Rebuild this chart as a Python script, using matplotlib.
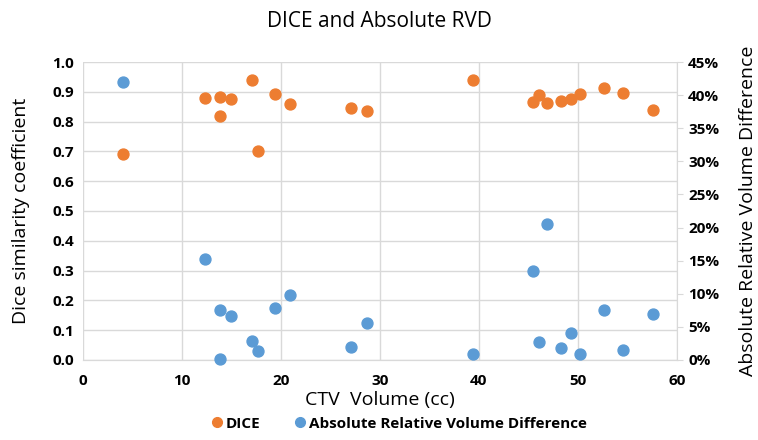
import matplotlib
matplotlib.use("Agg")
import matplotlib.pyplot as plt
from matplotlib.ticker import FuncFormatter, MultipleLocator
from matplotlib.lines import Line2D

volume = [4.07, 12.35, 13.9, 15.0, 13.85, 17.1, 17.7, 19.4, 20.9, 27.1, 28.7,
          39.4, 45.5, 46.1, 46.9, 48.3, 49.3, 50.2, 52.6, 54.6, 57.6]
dice = [0.690, 0.880, 0.884, 0.877, 0.820, 0.941, 0.700, 0.892, 0.859, 0.846, 0.837,
        0.941, 0.867, 0.888, 0.861, 0.870, 0.877, 0.892, 0.912, 0.896, 0.839]
rvd = [42.0, 15.2, 7.5, 6.6, 0.1, 2.9, 1.3, 7.8, 9.8, 1.9, 5.6,
       0.9, 13.5, 2.7, 20.5, 1.8, 4.1, 0.9, 7.5, 1.5, 6.9]

title = "DICE and Absolute RVD"
xlabel = "CTV  Volume (cc)"
ylabel_left = "Dice similarity coefficient"
ylabel_right = "Absolute Relative Volume Difference"
legend_labels = ["DICE", "Absolute Relative Volume Difference"]

orange = "#ED7D31"
blue = "#5B9BD5"
grid_c = "#D9D9D9"

plt.rcParams['font.family'] = ['Open Sans', 'DejaVu Sans']

fig = plt.figure(figsize=(7.58, 4.4), dpi=100)
ax = fig.add_axes([0.109, 0.182, 0.784, 0.677])
ax2 = ax.twinx()

ax.set_xlim(0, 60)
ax.set_ylim(0, 1.0)
ax2.set_ylim(0, 45)

ax.xaxis.set_major_locator(MultipleLocator(10))
ax.yaxis.set_major_locator(MultipleLocator(0.1))
ax2.yaxis.set_major_locator(MultipleLocator(5))
ax.yaxis.set_major_formatter(FuncFormatter(lambda v, p: f"{v:.1f}"))
ax2.yaxis.set_major_formatter(FuncFormatter(lambda v, p: f"{v:.0f}%"))

ax.grid(True, color=grid_c, linewidth=1.0)
ax.set_axisbelow(True)

ax.scatter(volume, dice, s=62, color=orange, zorder=3, clip_on=False)
ax2.scatter(volume, rvd, s=62, color=blue, zorder=3, clip_on=False)

for a in (ax, ax2):
    for side in ("top", "left"):
        a.spines[side].set_visible(False)
    a.spines["bottom"].set_color(grid_c)
    a.spines["right"].set_color(grid_c)
ax.spines["right"].set_visible(False)

ax.tick_params(axis="x", length=0, labelsize=11, labelcolor="black", pad=10)
ax.tick_params(axis="y", length=0, labelsize=11, labelcolor="black", pad=6)
ax2.tick_params(axis="y", length=4, color=grid_c, labelsize=11, labelcolor="black", pad=4)
for lab in ax.get_xticklabels() + ax.get_yticklabels() + ax2.get_yticklabels():
    lab.set_fontweight("bold")

ax.set_xlabel(xlabel, fontsize=14, labelpad=2)
ax.set_ylabel(ylabel_left, fontsize=14, labelpad=16)
ax2.set_ylabel(ylabel_right, fontsize=14, labelpad=14, rotation=90)

fig.suptitle(title, fontsize=15, y=0.975, color="black")

handles = [Line2D([], [], marker="o", linestyle="", color=orange, markersize=7),
           Line2D([], [], marker="o", linestyle="", color=blue, markersize=7)]
leg = fig.legend(handles, legend_labels, loc="lower center", ncol=2, frameon=False,
                 bbox_to_anchor=(0.52, -0.01), prop={"weight": "bold", "size": 11},
                 handletextpad=-0.4, columnspacing=1.6)

fig.savefig("out.png", dpi=100)
